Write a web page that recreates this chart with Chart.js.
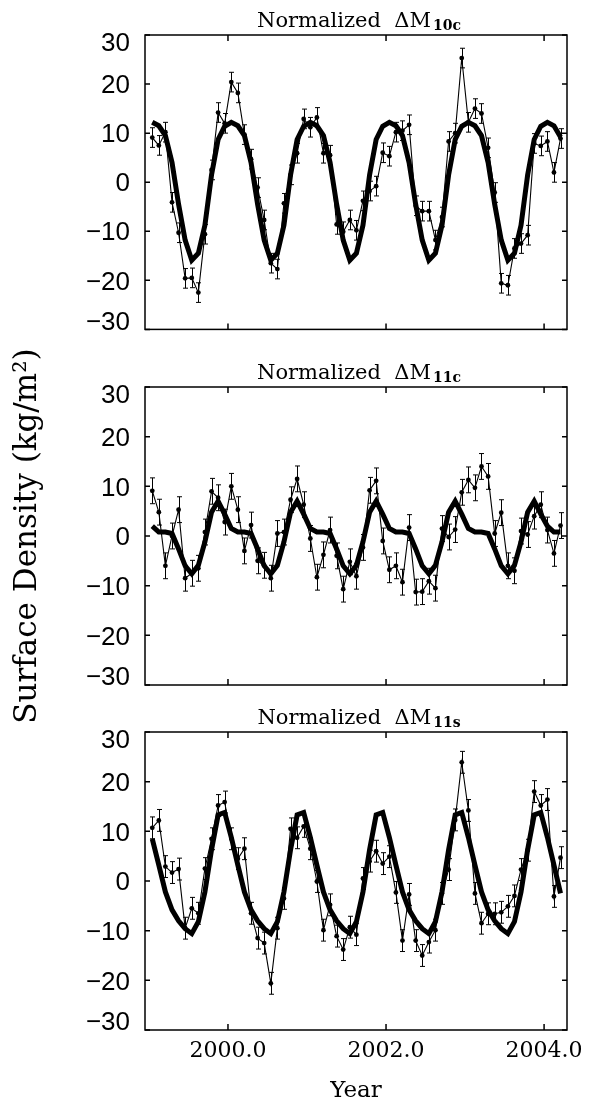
<!DOCTYPE html>
<html><head><meta charset="utf-8">
<script src="https://cdn.jsdelivr.net/npm/chart.js@4.4.1/dist/chart.umd.min.js"></script>
<style>
html,body{margin:0;padding:0;background:#fff;width:592px;height:1104px;overflow:hidden;}
canvas{position:absolute;left:0;}
</style></head><body>
<canvas id="c1" width="592" height="360" style="top:0px"></canvas>
<canvas id="c3" width="592" height="407" style="top:697px"></canvas>
<canvas id="c2" width="592" height="490" style="top:290px"></canvas>
<script>
// ---- data ----
const months = [
 1999.042,1999.125,1999.208,1999.292,1999.375,1999.458,1999.542,1999.625,1999.708,1999.792,1999.875,1999.958,
 2000.042,2000.125,2000.208,2000.292,2000.375,2000.458,2000.542,2000.625,2000.708,2000.792,2000.875,2000.958,
 2001.042,2001.125,2001.208,2001.292,2001.375,2001.458,2001.542,2001.625,2001.708,2001.792,2001.875,2001.958,
 2002.042,2002.125,2002.208,2002.292,2002.375,2002.458,2002.542,2002.625,2002.708,2002.792,2002.875,2002.958,
 2003.042,2003.125,2003.208,2003.292,2003.375,2003.458,2003.542,2003.625,2003.708,2003.792,2003.875,2003.958,
 2004.042,2004.125,2004.208];

const obs10c = [9.1,7.5,10.2,-4.1,-10.3,-19.6,-19.5,-22.5,-10.6,2.5,14.2,12.0,
 20.4,18.2,9.7,4.7,-1.1,-7.7,-16.5,-17.7,-4.3,1.5,5.9,12.9,
 11.2,13.2,5.9,5.5,-8.6,-10.1,-7.7,-9.8,-3.8,-1.8,-0.8,6.0,
 5.3,10.2,10.5,11.7,-4.8,-5.9,-5.9,-11.8,-7.1,8.3,10.0,25.3,
 12.2,15.0,14.0,7.0,-2.1,-20.6,-21.0,-13.5,-12.5,-10.8,7.9,7.4,
 8.3,2.0,8.9];
const model10c = [12.2,11.5,9.5,4.0,-4.5,-11.8,-15.9,-14.5,-8.8,1.5,8.7,11.4,
 12.2,11.5,9.5,4.0,-4.5,-11.8,-15.9,-14.5,-8.8,1.5,8.7,11.4,
 12.2,11.5,9.5,4.0,-4.5,-11.8,-15.9,-14.5,-8.8,1.5,8.7,11.4,
 12.2,11.5,9.5,4.0,-4.5,-11.8,-15.9,-14.5,-8.8,1.5,8.7,11.4,
 12.2,11.5,9.5,4.0,-4.5,-11.8,-15.9,-14.5,-8.8,1.5,8.7,11.4,
 12.2,11.5,9.2];
const err10c = 2.0;

const obs11c = [9.1,4.8,-6.0,0.0,5.3,-8.5,-7.5,-6.5,0.8,9.0,7.7,2.8,
 10.0,5.3,-3.0,2.2,-5.0,-5.9,-8.5,0.5,0.8,7.3,11.5,6.3,
 -0.5,-8.3,-3.8,1.2,-4.0,-10.7,-5.2,-8.1,-2.3,9.2,11.1,-1.0,
 -6.8,-6.0,-9.3,1.7,-11.3,-11.2,-9.1,-10.5,1.5,-0.2,1.3,8.8,
 11.3,9.7,14.0,12.0,0.5,4.7,-6.0,-7.0,1.0,0.3,4.0,6.3,
 1.2,-3.5,2.1];
const model11c = [2.0,0.8,0.8,0.5,-2.6,-6.0,-7.6,-5.9,-1.2,4.8,7.0,4.4,
 1.5,0.8,0.8,0.5,-2.6,-6.0,-7.6,-5.9,-1.2,4.8,7.0,4.4,
 1.5,0.8,0.8,0.5,-2.6,-6.0,-7.6,-5.9,-1.2,4.8,7.0,4.4,
 1.5,0.8,0.8,0.5,-2.6,-6.0,-7.6,-5.9,-1.2,4.8,7.0,4.4,
 1.5,0.8,0.8,0.5,-2.6,-6.0,-7.6,-5.9,-1.2,4.8,7.0,4.4,
 2.0,0.8,0.8];
const err11c = 2.6;

const obs11s = [10.7,12.2,2.9,1.7,2.4,-9.5,-5.5,-6.5,2.5,8.5,15.2,15.9,
 8.5,4.5,6.5,-6.5,-11.5,-12.5,-20.6,-9.5,-3.5,10.5,8.7,11.0,
 6.5,-0.1,-9.9,-4.8,-11.1,-13.8,-9.3,-10.8,0.5,4.0,6.0,3.5,
 4.9,-2.3,-12.0,-2.7,-12.0,-15.0,-12.3,-9.9,-2.5,2.3,12.3,23.9,
 14.2,-2.5,-8.5,-6.6,-6.6,-6.3,-5.1,-3.0,2.3,6.2,18.0,15.2,
 16.4,-3.1,4.7];
const model11s = [8.5,3.2,-2.2,-5.8,-8.0,-9.6,-10.6,-8.2,-2.2,6.3,13.3,13.8,
 8.8,3.2,-2.2,-5.8,-8.0,-9.6,-10.6,-8.2,-2.2,6.3,13.3,13.8,
 8.8,3.2,-2.2,-5.8,-8.0,-9.6,-10.6,-8.2,-2.2,6.3,13.3,13.8,
 8.8,3.2,-2.2,-5.8,-8.0,-9.6,-10.6,-8.2,-2.2,6.3,13.3,13.8,
 8.8,3.2,-2.2,-5.8,-8.0,-9.6,-10.6,-8.2,-2.2,6.3,13.3,13.8,
 8.8,3.2,-2.5];
const err11s = 2.2;

const subscripts = ['10c','11c','11s'];
const xTicks = [2000, 2002, 2004];
const xTickLabels = ['2000.0','2002.0','2004.0'];
const yTicks = [-30,-20,-10,0,10,20,30];
const yTickLabels = ['\u221230','\u221220','\u221210','0','10','20','30'];
const xTitle = 'Year';
const yTitle = 'Surface Density (kg/m\u00B2)';

// ---- plugins ----
const panelPlugin = {
  id: 'panel',
  beforeDraw(chart) {
    const items = chart.scales.y.getLabelItems();
    items.forEach(it => {
      if (it._adj) return;
      it._adj = true;
      const t = it.options.translation;
      let dy = 2;
      if (it.label === '30') dy = 9;
      else if (it.label === '\u221230') dy = -7;
      it.options.translation = [t[0], t[1] + dy];
    });
  },
  afterDatasetsDraw(chart, args, opts) {
    const {ctx, scales: {x, y}} = chart;
    const ds = chart.data.datasets[0];
    const e = opts.err;
    ctx.save();
    ctx.strokeStyle = '#000';
    ctx.lineWidth = 1;
    ds.data.forEach(p => {
      const px = Math.round(x.getPixelForValue(p.x)) + 0.5;
      const y1 = y.getPixelForValue(p.y - e), y2 = y.getPixelForValue(p.y + e);
      ctx.beginPath();
      ctx.moveTo(px, y1); ctx.lineTo(px, y2);
      ctx.moveTo(px - 2.5, y1); ctx.lineTo(px + 2.5, y1);
      ctx.moveTo(px - 2.5, y2); ctx.lineTo(px + 2.5, y2);
      ctx.stroke();
    });
    ctx.restore();
  },
  afterDraw(chart, args, opts) {
    const {ctx, chartArea: a, scales: {x, y}} = chart;
    ctx.save();
    ctx.strokeStyle = '#000';
    ctx.lineWidth = 1.5;
    ctx.strokeRect(a.left, a.top, a.right - a.left, a.bottom - a.top);
    ctx.beginPath();
    xTicks.forEach(v => {
      const px = x.getPixelForValue(v);
      ctx.moveTo(px, a.bottom); ctx.lineTo(px, a.bottom - 6);
      ctx.moveTo(px, a.top); ctx.lineTo(px, a.top + 6);
    });
    yTicks.forEach(v => {
      const py = y.getPixelForValue(v);
      ctx.moveTo(a.left, py); ctx.lineTo(a.left + 5, py);
      ctx.moveTo(a.right, py); ctx.lineTo(a.right - 5, py);
    });
    ctx.stroke();
    // title with subscript
    const main = 'Normalized  \u0394M';
    const sub = opts.sub;
    ctx.fillStyle = '#000';
    ctx.textBaseline = 'alphabetic';
    ctx.font = '21px "DejaVu Serif"';
    const w1 = ctx.measureText(main).width;
    ctx.font = 'bold 14px "DejaVu Serif"';
    const w2 = ctx.measureText(sub).width;
    const x0 = 359 - (w1 + 2 + w2) / 2;
    const base = a.top - 8;
    ctx.font = '21px "DejaVu Serif"';
    ctx.textAlign = 'left';
    ctx.fillText(main, x0, base);
    ctx.font = 'bold 14px "DejaVu Serif"';
    ctx.fillText(sub, x0 + w1 + 2, base + 3);
    ctx.restore();
  }
};

function makeChart(id, obs, model, err, sub, padTop, xHeight, showX, showYTitle) {
  const pts = months.map((t, i) => ({x: t, y: obs[i]}));
  const mpts = months.map((t, i) => ({x: t, y: model[i]}));
  return new Chart(document.getElementById(id), {
    type: 'line',
    data: {datasets: [
      {data: pts, borderColor: '#000', backgroundColor: '#000', borderWidth: 1.1,
       pointRadius: 2.4, pointBackgroundColor: '#000', pointBorderWidth: 0, tension: 0},
      {data: mpts, borderColor: '#000', borderWidth: 5, pointRadius: 0, tension: 0}
    ]},
    options: {
      responsive: false, animation: false, events: [],
      layout: {padding: {left: 0, right: 25, top: padTop, bottom: 0}},
      plugins: {legend: {display: false}, tooltip: {enabled: false}, title: {display: false},
        panel: {err: err, sub: sub}},
      scales: {
        x: {type: 'linear', min: 1998.95, max: 2004.29, display: true,
          grid: {display: false, drawTicks: false}, border: {display: false},
          afterBuildTicks: s => { s.ticks = xTicks.map(v => ({value: v})); },
          afterFit: s => { s.height = xHeight; },
          ticks: {display: showX, padding: 8, color: '#000', maxRotation: 0, autoSkip: false,
            font: {family: 'DejaVu Serif', size: 22},
            callback: v => xTickLabels[xTicks.indexOf(v)]},
          title: {display: showX, text: xTitle, color: '#000',
            font: {family: 'DejaVu Serif', size: 23, lineHeight: 1}, padding: {top: 0, bottom: 1.5}}
        },
        y: {type: 'linear', min: -30, max: 30,
          grid: {display: false, drawTicks: false}, border: {display: false},
          afterBuildTicks: s => { s.ticks = yTicks.map(v => ({value: v})); },
          afterFit: s => { s.width = 145; },
          ticks: {padding: 15, color: '#000', autoSkip: false, font: {family: 'Liberation Sans', size: 26},
            callback: v => yTickLabels[yTicks.indexOf(v)]},
          title: {display: showYTitle, text: yTitle, color: '#000',
            font: {family: 'DejaVu Serif', size: 31, lineHeight: 1.2}, padding: {top: 9, bottom: 0}}
        }
      }
    },
    plugins: [panelPlugin]
  });
}

makeChart('c1', obs10c, model10c, err10c, subscripts[0], 35, 27, false, false);
makeChart('c2', obs11c, model11c, err11c, subscripts[1], 97, 95, false, true);
makeChart('c3', obs11s, model11s, err11s, subscripts[2], 35, 74, true, false);
</script>
</body></html>
